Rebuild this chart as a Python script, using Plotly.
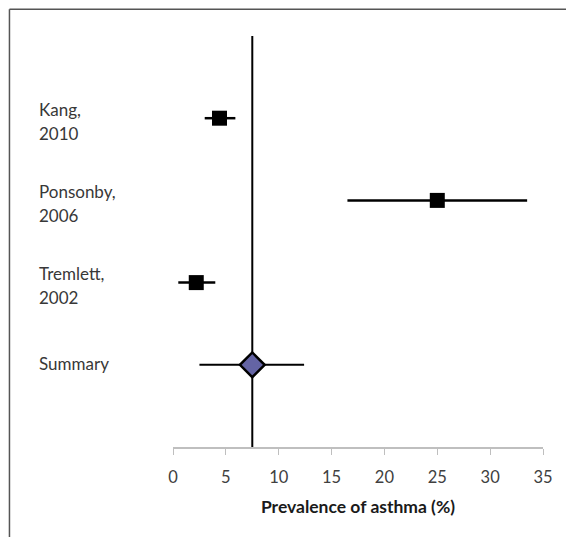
import plotly.graph_objects as go

studies = ["Kang,\n2010", "Ponsonby,\n2006", "Tremlett,\n2002", "Summary"]
positions = [4, 3, 2, 1]
estimates = [4.4, 25.0, 2.2, 7.5]
lower = [3.0, 16.5, 0.5, 2.5]
upper = [5.9, 33.5, 4.0, 12.4]
x_ticks = [0, 5, 10, 15, 20, 25, 30, 35]
summary_value = 7.5

FONT = "Lato, Open Sans, sans-serif"

fig = go.Figure()

n_study = 3
err_plus = [u - e for u, e in zip(upper, estimates)]
err_minus = [e - l for e, l in zip(estimates, lower)]

fig.add_trace(go.Scatter(
    x=estimates[:n_study], y=positions[:n_study], mode="markers",
    marker=dict(symbol="square", size=15, color="black", line=dict(width=0)),
    error_x=dict(type="data", symmetric=False, array=err_plus[:n_study],
                 arrayminus=err_minus[:n_study], color="black", thickness=2.5, width=0),
    showlegend=False,
))
fig.add_trace(go.Scatter(
    x=estimates[n_study:], y=positions[n_study:], mode="markers",
    marker=dict(symbol="diamond", size=19, color="#6464a4", line=dict(width=2.5, color="black")),
    error_x=dict(type="data", symmetric=False, array=err_plus[n_study:],
                 arrayminus=err_minus[n_study:], color="black", thickness=2, width=0),
    showlegend=False,
))

shapes = [
    dict(type="line", xref="x", yref="paper", x0=summary_value, x1=summary_value,
         y0=0, y1=1, line=dict(color="black", width=2), layer="below"),
    # outer frame
    dict(type="line", xref="paper", yref="paper", x0=-0.442, x1=1.07, y0=1.065, y1=1.065,
         line=dict(color="#555555", width=1.5)),
    dict(type="line", xref="paper", yref="paper", x0=-0.442, x1=-0.442, y0=1.065, y1=-0.25,
         line=dict(color="#555555", width=1.5)),
]

annotations = []
for name, pos in zip(studies, positions):
    lines = name.split("\n")
    if len(lines) == 1:
        annotations.append(dict(x=-0.368, xref="paper", y=pos, yref="y", text=lines[0],
                                showarrow=False, xanchor="left", yanchor="middle", yshift=1,
                                font=dict(family=FONT, size=17, color="#383838")))
    else:
        for i, ln in enumerate(lines):
            annotations.append(dict(x=-0.368, xref="paper", y=pos, yref="y", text=ln,
                                    showarrow=False, xanchor="left", yanchor="middle",
                                    yshift=9 - 24 * i,
                                    font=dict(family=FONT, size=17, color="#383838")))

fig.update_layout(
    width=566, height=537,
    margin=dict(l=173, r=23, t=36, b=90),
    paper_bgcolor="white", plot_bgcolor="white",
    shapes=shapes, annotations=annotations,
    xaxis=dict(range=[0, 35], tickvals=x_ticks, ticks="outside", ticklen=6,
               tickcolor="#bfbfbf", showline=True, linecolor="#bfbfbf", linewidth=1.5,
               showgrid=False, zeroline=False, ticklabelstandoff=8,
               tickfont=dict(family=FONT, size=16.5, color="#404040"),
               title=dict(text="<b>Prevalence of asthma (%)</b>", standoff=15,
                          font=dict(family=FONT, size=17.5, color="#1a1a1a"))),
    yaxis=dict(range=[0, 5], showticklabels=False, showgrid=False, zeroline=False,
               showline=False, ticks=""),
)

fig.write_html("out.html", config={"displayModeBar": False},
               post_script="document.body.style.margin='0';document.body.style.overflow='hidden';")
